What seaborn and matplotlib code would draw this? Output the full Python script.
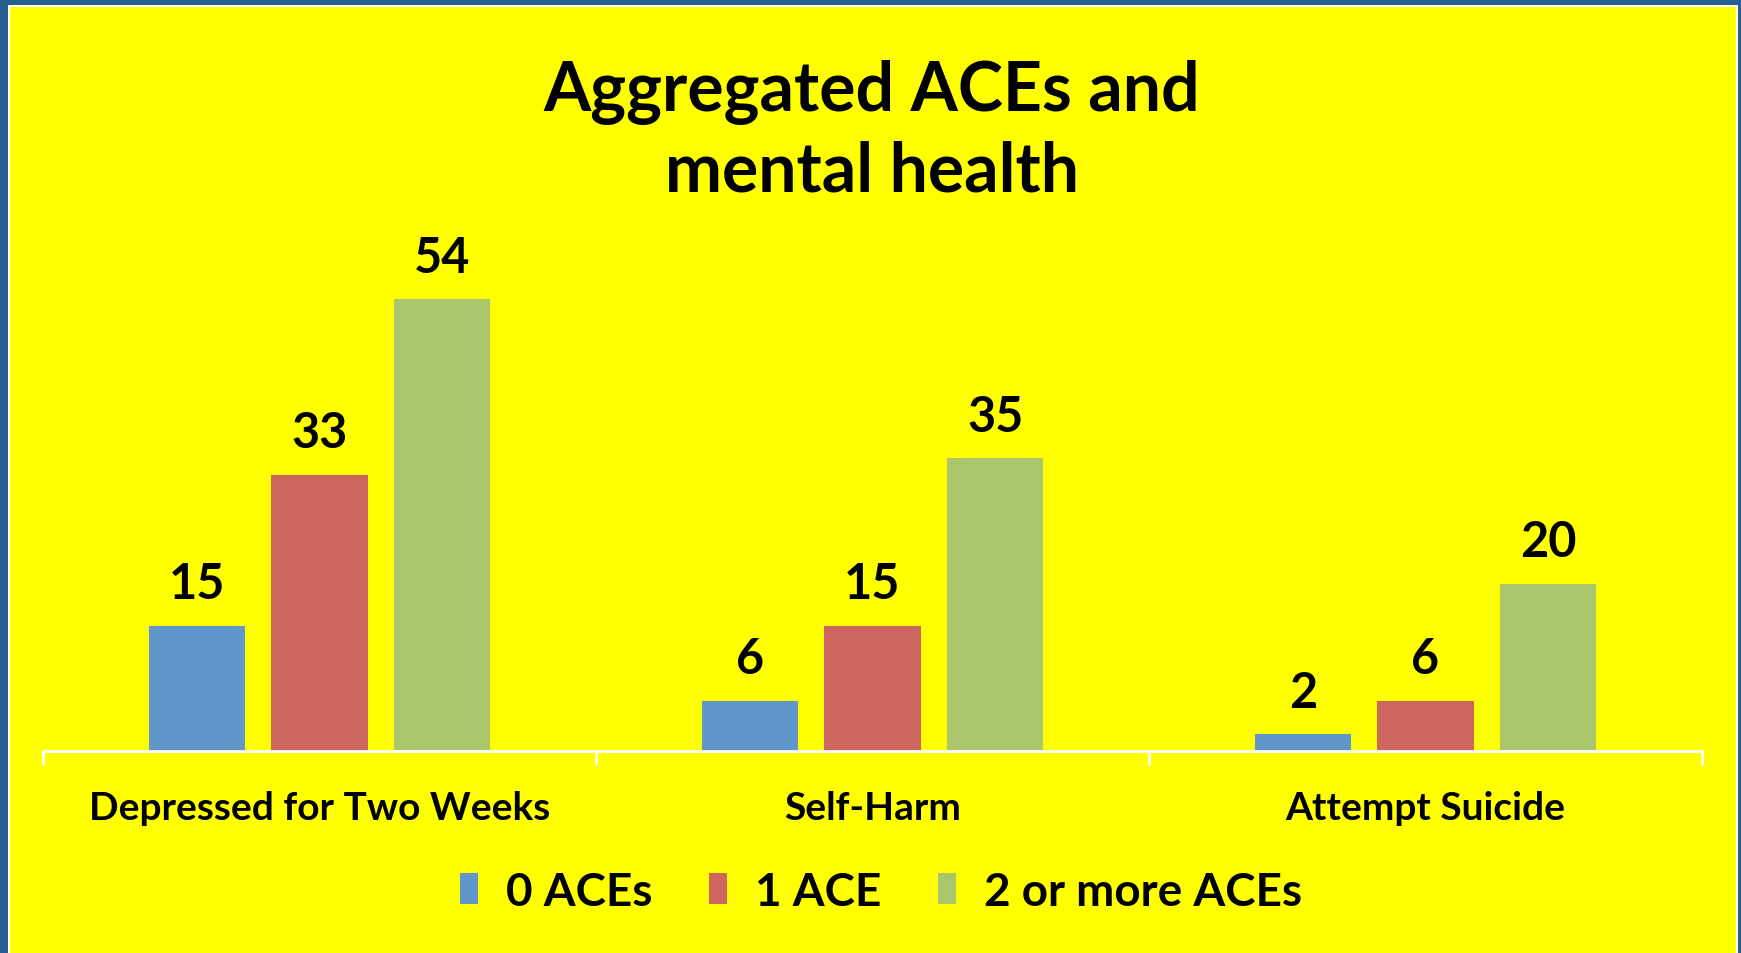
import pandas as pd
import matplotlib
matplotlib.use("Agg")
import matplotlib.pyplot as plt
import seaborn as sns
from matplotlib.patches import Rectangle

# Daten
categories = ["Depressed for Two Weeks", "Self-Harm", "Attempt Suicide"]
groups = ["0 ACEs", "1 ACE", "2 or more ACEs"]
vals_0 = [15, 6, 2]
vals_1 = [33, 15, 6]
vals_2 = [54, 35, 20]
colors = ["#6096CA", "#CD665F", "#ABC56A"]

df = pd.DataFrame({
    "outcome": categories * 3,
    "group": [g for g in groups for _ in categories],
    "pct": vals_0 + vals_1 + vals_2,
})

sns.set_theme(style="white")
plt.rcParams["font.family"] = ["Lato", "DejaVu Sans"]
plt.rcParams["text.color"] = "black"

W, H = 1741, 954
fig = plt.figure(figsize=(W / 100, H / 100), dpi=100, facecolor="#265E92")

# Rahmen: weisse Linie + gelbe Flaeche
fig.patches.append(Rectangle((8 / W, 0), (1738 - 8) / W, 1 - 6 / H,
                             transform=fig.transFigure, facecolor="white",
                             edgecolor="none", zorder=-2))
fig.patches.append(Rectangle((10 / W, 0), (1736 - 10) / W, 1 - 8 / H,
                             transform=fig.transFigure, facecolor="#FFFF00",
                             edgecolor="none", zorder=-1))

ax = fig.add_axes([43 / W, 1 - 752 / H, (1702 - 43) / W, (752 - 250) / H])
ax.set_facecolor("none")

sns.barplot(data=df, x="outcome", y="pct", hue="group", order=categories,
            hue_order=groups, palette=colors, width=0.665, gap=0.215,
            saturation=1, linewidth=0, legend=False, ax=ax)

for cont in ax.containers:
    ax.bar_label(cont, fmt="%g", padding=14, fontsize=35, fontweight="bold",
                 color="black")

ax.set_ylim(0, 60)
ax.set_xlim(-0.5, 2.5)
ax.set_xlabel("")
ax.set_ylabel("")
ax.set_yticks([])
for s in ["top", "left", "right"]:
    ax.spines[s].set_visible(False)
ax.spines["bottom"].set_color("white")
ax.spines["bottom"].set_linewidth(2)

ax.set_xticks(range(len(categories)))
ax.set_xticklabels(categories, fontsize=28, fontweight="bold", color="black")
ax.set_xticks([-0.5, 0.5, 1.5, 2.5], minor=True)
ax.tick_params(axis="x", which="major", length=0, pad=28)
ax.tick_params(axis="x", which="minor", length=10, width=2, color="white",
               direction="out", bottom=True)

fig.text(872 / W, 1 - 132 / H, "Aggregated ACEs and\nmental health",
         ha="center", va="center", fontsize=49, fontweight="bold",
         linespacing=1.3, color="black")

handles = [Rectangle((0, 0), 1, 1, facecolor=c, edgecolor="none") for c in colors]
fig.legend(handles, groups, loc="center", bbox_to_anchor=(881 / W, 1 - 893 / H),
           ncol=3, frameon=False, prop={"size": 33, "weight": "bold"},
           handlelength=0.4, handleheight=0.66, handletextpad=0.6,
           columnspacing=1.24, labelcolor="black")

fig.savefig("out.png", dpi=100, facecolor=fig.get_facecolor())
